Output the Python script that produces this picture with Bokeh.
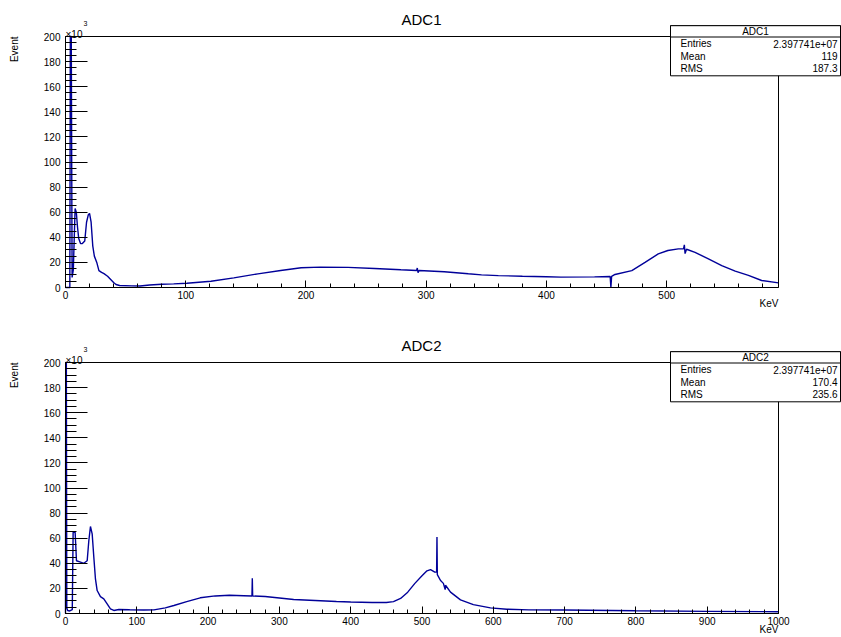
import math
from bokeh.plotting import figure
from bokeh.models import Range1d, SingleIntervalTicker, Label, BoxAnnotation, LinearAxis
from bokeh.layouts import column
from bokeh.embed import file_html
from bokeh.resources import INLINE

# ---------------- data (counts in units of 10^3) ----------------
adc1_kev = [0, 3.6, 4.0, 4.8, 5.5, 6.5, 8.0, 9.0, 10.0, 11.0, 12.5, 14.0, 16.0, 17.5,
            19.0, 20.0, 21.3, 22.7, 24.0, 26.0, 27.8, 30.0, 32.0, 35.0, 38.0, 40.0,
            42.0, 45.0, 55.0, 62.0, 70.0, 80.0, 90.0, 101, 121, 140, 160, 179, 196,
            212, 235, 257, 279, 292, 292.6, 293.2, 294, 315, 335, 346, 360, 380, 400,
            412, 440, 453, 453.6, 454.2, 457, 471, 482, 493, 501, 509.7, 514, 514.7,
            515.3, 516.5, 523.6, 534.7, 545.8, 557, 568, 579, 593]
adc1_counts = [0, 0, 260, 260, 8, 14, 63, 60, 48, 39, 35, 35, 37, 52,
               58, 59, 52, 33, 25, 20, 13.5, 12, 11, 9, 6, 4,
               2.4, 1.6, 1.3, 1.2, 2.0, 2.6, 2.9, 3.4, 5.0, 7.7, 10.9, 13.5, 15.7,
               16.2, 16.0, 15.1, 14.1, 13.6, 15.5, 11.8, 13.5, 12.5, 10.9, 10.1, 9.5, 9.0, 8.6,
               8.3, 8.5, 8.8, 0, 8.8, 10.4, 13.5, 20, 26.8, 29.5, 30.8, 30.8, 34,
               27, 30.5, 28, 22.8, 17.5, 13, 9.6, 5.6, 3.7]

adc2_kev = [0, 0.3, 1.2, 1.8, 3, 6, 9.5, 10.7, 13.5, 15.4, 21, 25.7, 30.4, 32.7, 35,
            37.4, 39.7, 42, 44.4, 49, 53.7, 58.4, 63, 67.8, 74.8, 90, 110, 124, 140,
            152, 170, 189, 210, 230, 250, 261.5, 262, 262.5, 280, 300, 320, 350, 380,
            400, 430, 450, 460, 470, 480, 490, 500, 507, 512, 518, 520.5, 521, 521.5,
            526, 530, 532.5, 533, 540, 554, 572, 596, 619, 650, 700, 800, 900, 1000]
adc2_counts = [0, 250, 250, 4.5, 2.4, 2.0, 3.0, 64.8, 64.8, 42, 41, 40, 42, 58, 69.3,
               63.5, 45, 27.6, 18.3, 13.5, 11.7, 7.7, 3.7, 2.4, 3.2, 3.0, 2.8, 2.9, 4.5,
               6.4, 9.5, 12.5, 14, 14.5, 14.2, 14, 28, 14, 13.5, 12.4, 11.2, 10.4, 9.6,
               9.2, 8.8, 8.8, 9.5, 12, 17, 24, 30, 34, 35, 33, 33, 61, 31,
               26.3, 24, 19, 22.5, 17, 10.9, 7.1, 4.5, 3.4, 2.9, 2.8, 2.2, 1.7, 1.4]

adc1_stats = ["ADC1", "2.397741e+07", "119", "187.3"]
adc2_stats = ["ADC2", "2.397741e+07", "170.4", "235.6"]
stat_names = ["Entries", "Mean", "RMS"]

adc1_xmax = 593
adc2_xmax = 1000
y_max = 200
x_tick_step = 100
y_tick_step = 20

FONT = "Liberation Sans"
LINE = "#000099"

W, H = 841, 318
FRAME_L, FRAME_R = 65, 778      # pixel columns of the axis box
FRAME_H = 251                   # pixel height of the axis box


def panel(kev, counts, xmax, stats, frame_top):
    frame_bot = frame_top + FRAME_H
    sx = (FRAME_R - FRAME_L) / xmax      # px per keV
    sy = FRAME_H / y_max                 # px per 10^3 counts
    X = lambda px: (px - FRAME_L) / sx
    Y = lambda py: (frame_bot - py) / sy

    p = figure(width=W, height=H,
               x_range=Range1d(X(0), X(W)), y_range=Range1d(Y(H), Y(0)),
               output_backend="svg", toolbar_location=None,
               x_axis_location=None, y_axis_location=None,
               min_border_left=0, min_border_right=0,
               min_border_top=0, min_border_bottom=0)
    p.xgrid.visible = False
    p.ygrid.visible = False
    p.background_fill_color = "white"
    p.border_fill_color = "white"
    p.outline_line_color = None

    xaxis = LinearAxis(fixed_location=0, bounds=(0, xmax),
                       ticker=SingleIntervalTicker(interval=x_tick_step, num_minor_ticks=5))
    yaxis = LinearAxis(fixed_location=0, bounds=(0, y_max),
                       ticker=SingleIntervalTicker(interval=y_tick_step, num_minor_ticks=4))
    for ax in (xaxis, yaxis):
        ax.axis_line_color = "black"
        ax.major_tick_line_color = "black"
        ax.minor_tick_line_color = "black"
        ax.major_tick_out = 0
        ax.minor_tick_out = 0
        ax.major_label_text_font = FONT
        ax.major_label_text_font_size = "10px"
        ax.major_label_text_color = "black"
    yaxis.major_tick_in = 22
    yaxis.minor_tick_in = 11
    yaxis.major_label_standoff = 5
    xaxis.major_tick_in = 7
    xaxis.minor_tick_in = 4
    xaxis.major_label_standoff = 3
    p.add_layout(xaxis, "below")
    p.add_layout(yaxis, "left")

    # histogram (values above the axis maximum are clipped at the top of the box)
    shown = [min(c, y_max) for c in counts]
    p.line(kev, shown, line_color=LINE, line_width=1.4)

    # axis box
    p.add_layout(BoxAnnotation(left=0, right=xmax, bottom=0, top=y_max,
                               fill_alpha=0, line_color="black", line_width=1,
                               line_alpha=1, level="annotation"))

    def lab(px, py, text, size="10px", align="left", baseline="middle", angle=0):
        p.add_layout(Label(x=X(px), y=Y(py), text=text, text_font=FONT,
                           text_font_size=size, text_align=align, angle=angle,
                           text_baseline=baseline, text_color="black", level="overlay"))

    # title, axis titles, exponent
    lab(421, frame_top - 17.5, stats[0], size="15px", align="center")
    lab(14, frame_top, "Event", align="right", angle=math.pi / 2)
    lab(FRAME_L, frame_top - 2.5, "×10", baseline="alphabetic")
    lab(FRAME_L + 18, frame_top - 13, "3", size="7px")
    lab(FRAME_R, frame_bot + 16, "KeV", align="right")

    # statistics box
    b_left, b_right = 670, 840
    b_top, b_sep, b_bot = frame_top - 10.8, frame_top + 0.5, frame_top + 39.3
    p.add_layout(BoxAnnotation(left=X(b_left), right=X(b_right), top=Y(b_top), bottom=Y(b_bot),
                               fill_color="white", fill_alpha=1, line_color="black",
                               line_width=1, line_alpha=1, level="overlay"))
    p.add_layout(BoxAnnotation(left=X(b_left), right=X(b_right), top=Y(b_top), bottom=Y(b_sep),
                               fill_color="white", fill_alpha=1, line_color="black",
                               line_width=1, line_alpha=1, level="overlay"))
    lab((b_left + b_right) / 2, frame_top - 5.3, stats[0], align="center")
    for name, val, dy in zip(stat_names, stats[1:], [7.3, 19.8, 31.8]):
        lab(680, frame_top + dy, name)
        lab(837, frame_top + dy, val, align="right")
    return p


p1 = panel(adc1_kev, adc1_counts, adc1_xmax, adc1_stats, 36)
p2 = panel(adc2_kev, adc2_counts, adc2_xmax, adc2_stats, 44)

layout = column(p1, p2, spacing=0)
open("out.html", "w").write(file_html(layout, INLINE))
